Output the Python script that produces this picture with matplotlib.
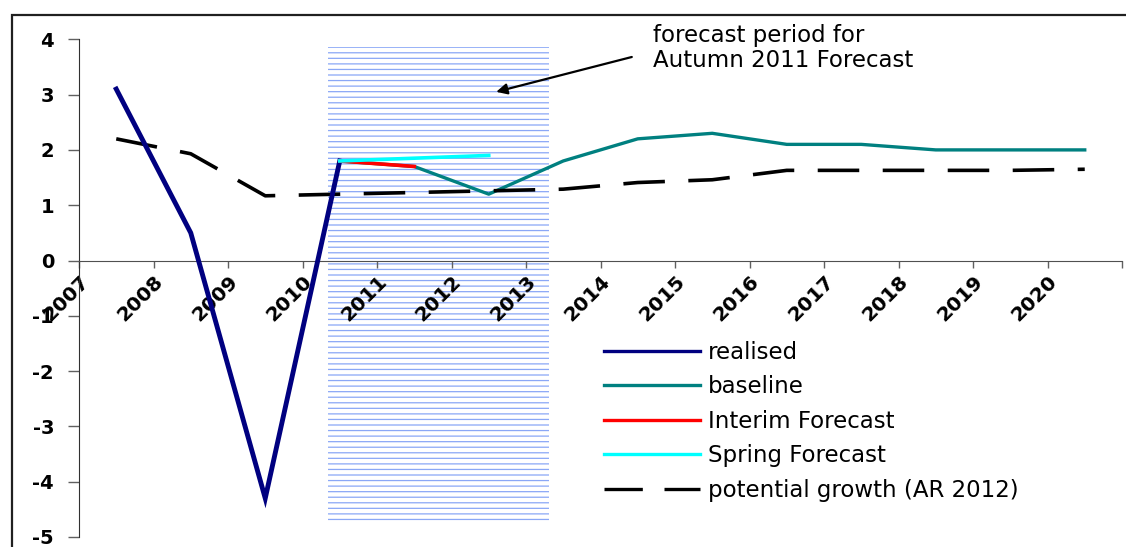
import numpy as np
import matplotlib
matplotlib.use("Agg")
import matplotlib.pyplot as plt
from matplotlib.patches import Rectangle
from matplotlib.lines import Line2D

# GDP growth, % (realised and forecasts) vs potential growth
years = list(range(2007, 2021))
realised = [3.1, 0.5, -4.3, 1.8]                                      # 2007-2010
baseline = [1.8, 1.7, 1.2, 1.8, 2.2, 2.3, 2.1, 2.1, 2.0, 2.0, 2.0]    # 2010-2020
interim = [1.8, 1.7]                                                  # 2010-2011
spring = [1.8, 1.85, 1.9]                                             # 2010-2012
potential = [2.2, 1.93, 1.17, 1.2, 1.23, 1.26, 1.29, 1.41, 1.46,
             1.63, 1.63, 1.63, 1.63, 1.65]                            # 2007-2020

# forecast window shading (category units / growth units)
window_x = (3.34, 6.31)
window_y = (-4.72, 3.86)

plt.rcParams['axes.unicode_minus'] = False
plt.rcParams['hatch.linewidth'] = 0.9

W, H = 1126, 547
fig = plt.figure(figsize=(W / 100, H / 100), dpi=100)
ax = fig.add_axes([79 / W, 1 - 537 / H, (1122 - 79) / W, (537 - 39.3) / H])

x = np.arange(len(years)) + 0.5
i2010 = years.index(2010)

ax.add_patch(Rectangle((window_x[0], window_y[0]), window_x[1] - window_x[0],
                       window_y[1] - window_y[0], facecolor='none',
                       edgecolor='#8aa7f6', linewidth=0, hatch='---', zorder=1))

ax.plot(x[:len(realised)], realised, color='#000080', lw=3.5,
        solid_joinstyle='miter', zorder=4, label='realised')
ax.plot(x[i2010:i2010 + len(baseline)], baseline, color='#008080', lw=2.4,
        zorder=3, label='baseline')
ax.plot(x[i2010:i2010 + len(interim)], interim, color='#ff0000', lw=2.6,
        zorder=4, label='Interim Forecast')
ax.plot(x[i2010:i2010 + len(spring)], spring, color='#00ffff', lw=2.6,
        zorder=5, label='Spring Forecast')
ax.plot(x, potential, color='black', lw=2.6, dashes=(11.5, 6.5),
        zorder=3, label='potential growth (AR 2012)')

ax.set_xlim(0, len(years))
ax.set_ylim(-5, 4)
ax.set_yticks(range(-5, 5))
ax.set_xticks(range(len(years) + 1))
ax.set_xticklabels([str(y) for y in years] + [''])

for s in ('top', 'right'):
    ax.spines[s].set_visible(False)
ax.spines['bottom'].set_position(('data', 0))
ax.spines['bottom'].set_color('#505050')
ax.spines['left'].set_color('#303030')
ax.patch.set_visible(False)

ax.tick_params(axis='y', direction='out', length=8, width=1, color='#606060',
               pad=10, labelsize=14)
ax.tick_params(axis='x', direction='out', length=5, width=1, color='#606060',
               pad=3, labelsize=14.5)
for lab in ax.get_yticklabels():
    lab.set_fontweight('bold')
for lab in ax.get_xticklabels():
    lab.set_fontweight('bold')
    lab.set_rotation(45)
    lab.set_ha('right')
    lab.set_rotation_mode('anchor')

# annotation for the shaded window
ax.annotate('', xy=(5.6, 3.05), xytext=(7.42, 3.68),
            arrowprops=dict(arrowstyle='-|>', color='black', lw=1.6,
                            mutation_scale=16, shrinkA=0, shrinkB=0))
ax.text(7.7, 3.84, 'forecast period for\nAutumn 2011 Forecast', fontsize=16.5,
        ha='left', va='center', linespacing=1.1, zorder=6)

handles = [
    Line2D([], [], color='#000080', lw=2.4),
    Line2D([], [], color='#008080', lw=2.4),
    Line2D([], [], color='#ff0000', lw=2.4),
    Line2D([], [], color='#00ffff', lw=2.4),
    Line2D([], [], color='black', lw=2.4, dashes=(11.5, 6.5)),
]
labels = ['realised', 'baseline', 'Interim Forecast', 'Spring Forecast',
          'potential growth (AR 2012)']
fig.legend(handles, labels, loc='upper left', bbox_to_anchor=(604 / W, 1 - 341 / H),
           frameon=False, fontsize=16.5, handlelength=4.2, handletextpad=0.35,
           labelspacing=0.5, borderpad=0, borderaxespad=0)

# chart-area border
fig.patches.append(Rectangle((12 / W, -0.2), 1.5, 1 - 15 / H + 0.2,
                             transform=fig.transFigure, fill=False,
                             edgecolor='#202020', linewidth=1.6))

fig.savefig('out.png', dpi=100)
